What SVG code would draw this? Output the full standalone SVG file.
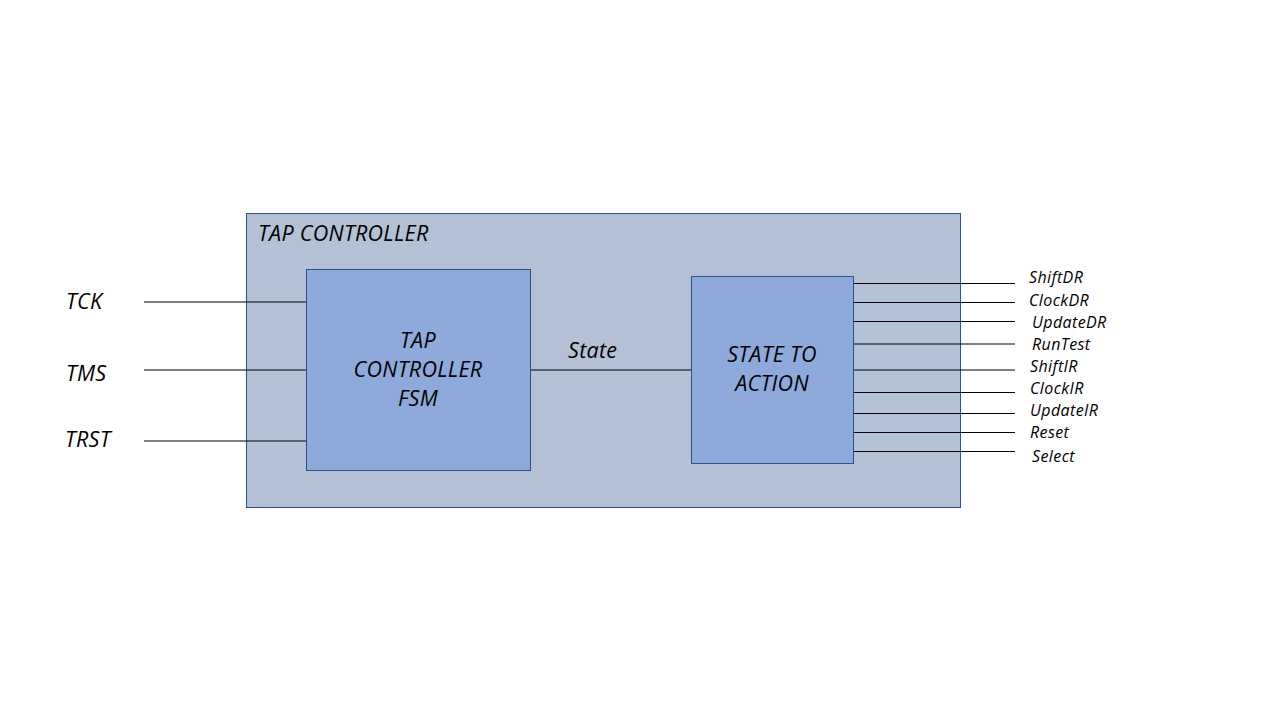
<svg xmlns="http://www.w3.org/2000/svg" width="1280" height="720" viewBox="0 0 1280 720">
<style>
text{font-family:"Open Sans","Liberation Sans",sans-serif;font-style:italic;fill:#000}
.big{font-size:21.5px;letter-spacing:0.3px}
.sm{font-size:16px;letter-spacing:0.4px}
.box{stroke:#2f528f;stroke-width:1}
.ln{stroke:#000;stroke-width:1.2;fill:none}
</style>
<rect width="1280" height="720" fill="#fff"/>
<g id="tap-controller">
<rect class="box" x="246.5" y="213.5" width="714" height="294" fill="#b4c0d3"/>
<text class="big" x="258" y="241">TAP CONTROLLER</text>
</g>
<g id="connectors">
<line class="ln" x1="144" y1="302" x2="306" y2="302"/>
<line class="ln" x1="144" y1="370" x2="306" y2="370"/>
<line class="ln" x1="144" y1="441" x2="306" y2="441"/>
<line class="ln" x1="530" y1="370" x2="691" y2="370"/>
<line class="ln" x1="853" y1="283.5" x2="1015" y2="283.5"/>
<line class="ln" x1="853" y1="302.5" x2="1015" y2="302.5"/>
<line class="ln" x1="853" y1="321.5" x2="1015" y2="321.5"/>
<line class="ln" x1="853" y1="344" x2="1015" y2="344"/>
<line class="ln" x1="853" y1="370" x2="1015" y2="370"/>
<line class="ln" x1="853" y1="392.5" x2="1015" y2="392.5"/>
<line class="ln" x1="853" y1="413.5" x2="1015" y2="413.5"/>
<line class="ln" x1="853" y1="432.5" x2="1015" y2="432.5"/>
<line class="ln" x1="853" y1="451.5" x2="1015" y2="451.5"/>
<text class="big" x="568" y="358">State</text>
</g>
<g id="inputs">
<text class="big" x="66" y="309">TCK</text>
<text class="big" x="66" y="381">TMS</text>
<text class="big" x="65" y="447">TRST</text>
</g>
<g id="fsm">
<rect class="box" x="306.5" y="269.5" width="224" height="201" fill="#8eaadb"/>
<text class="big" x="418" y="348" text-anchor="middle">TAP</text>
<text class="big" x="418" y="377" text-anchor="middle">CONTROLLER</text>
<text class="big" x="418" y="406" text-anchor="middle">FSM</text>
</g>
<g id="state-to-action">
<rect class="box" x="691.5" y="276.5" width="162" height="187" fill="#8eaadb"/>
<text class="big" x="772" y="362" text-anchor="middle">STATE TO</text>
<text class="big" x="772" y="391" text-anchor="middle">ACTION</text>
</g>
<g id="outputs">
<text class="sm" x="1029" y="283">ShiftDR</text>
<text class="sm" x="1029" y="306">ClockDR</text>
<text class="sm" x="1032" y="328">UpdateDR</text>
<text class="sm" x="1032" y="350">RunTest</text>
<text class="sm" x="1030" y="372">ShiftIR</text>
<text class="sm" x="1030" y="394">ClockIR</text>
<text class="sm" x="1030" y="416">UpdateIR</text>
<text class="sm" x="1030" y="438">Reset</text>
<text class="sm" x="1032" y="462">Select</text>
</g>
</svg>
